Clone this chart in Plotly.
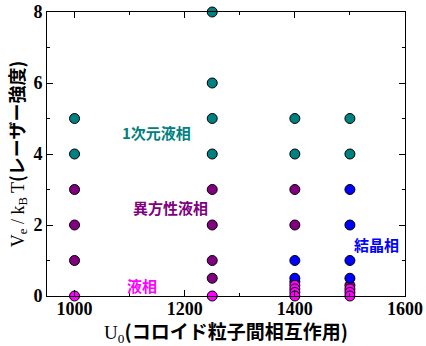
import plotly.graph_objects as go

# Phase diagram: interaction strength U0 vs. laser intensity Ve/kBT
u0_1d = [1000, 1000, 1250, 1250, 1250, 1250, 1400, 1400, 1500, 1500]
ve_1d = [5, 4, 8, 6, 5, 4, 5, 4, 5, 4]

u0_aniso = [1000, 1000, 1000, 1250, 1250, 1250, 1250, 1400, 1400, 1400, 1500]
ve_aniso = [3, 2, 1, 3, 2, 1, 0.5, 3, 2, 0.4, 0.3]

u0_cryst = [1400, 1400, 1500, 1500, 1500, 1500]
ve_cryst = [1, 0.5, 3, 2, 1, 0.5]

u0_liq = [1000, 1250, 1400, 1400, 1400, 1400, 1500, 1500, 1500]
ve_liq = [0, 0, 0.3, 0.2, 0.1, 0.0, 0.2, 0.1, 0.0]

TEAL, PURPLE, BLUE, MAGENTA = "#008080", "#800080", "#0000FF", "#FF00FF"

phase_labels = ["1次元液相", "異方性液相", "液相", "結晶相"]
label_x = [1148, 1174, 1123, 1548]
label_y = [4.6, 2.5, 0.3, 1.45]
label_colors = [TEAL, PURPLE, MAGENTA, BLUE]

x_ticks = [1000, 1200, 1400, 1600]
y_ticks = [0, 2, 4, 6, 8]

fig = go.Figure()
for xs, ys, c in [(u0_1d, ve_1d, TEAL), (u0_aniso, ve_aniso, PURPLE),
                  (u0_cryst, ve_cryst, BLUE), (u0_liq, ve_liq, MAGENTA)]:
    fig.add_trace(go.Scatter(
        x=xs, y=ys, mode="markers", cliponaxis=False, showlegend=False,
        marker=dict(size=10, color=c, line=dict(color="black", width=1)),
    ))

jp = "Noto Sans CJK JP"
for t, x, y, c in zip(phase_labels, label_x, label_y, label_colors):
    fig.add_annotation(x=x, y=y, xref="x", yref="y", xanchor="center",
                       text=f"<b>{t}</b>", showarrow=False,
                       font=dict(family=jp, size=15, color=c))

axis_common = dict(
    showline=True, linecolor="black", linewidth=1, mirror="ticks", automargin=False,
    ticks="inside", ticklen=6, tickcolor="black", showgrid=False, zeroline=False,
    tickfont=dict(family="Liberation Serif", size=18, color="black", weight="bold"),
)

fig.update_xaxes(
    range=[950, 1600], tickvals=x_ticks, ticklabelstandoff=-4,
    minor=dict(dtick=100, ticks="inside", ticklen=3, tickcolor="black", showgrid=False),
    title=dict(
        text=f"U<sub>0</sub><span style='font-family:{jp};font-weight:bold'>(コロイド粒子間相互作用)</span>",
        font=dict(family="Liberation Serif", size=19, color="black"), standoff=8),
    **axis_common,
)
fig.update_yaxes(
    range=[0, 8], tickvals=y_ticks,
    minor=dict(dtick=1, ticks="inside", ticklen=3, tickcolor="black", showgrid=False),
    title=dict(
        text=f"V<sub>e</sub> / k<sub>B</sub> T<span style='font-family:{jp};font-weight:bold'>(レーザー強度)</span>",
        font=dict(family="Liberation Serif", size=18, color="black"), standoff=4),
    **axis_common,
)

fig.update_layout(
    width=426, height=346, paper_bgcolor="white", plot_bgcolor="white",
    margin=dict(l=47, r=21, t=12, b=50),
)

fig.write_html("out.html")
